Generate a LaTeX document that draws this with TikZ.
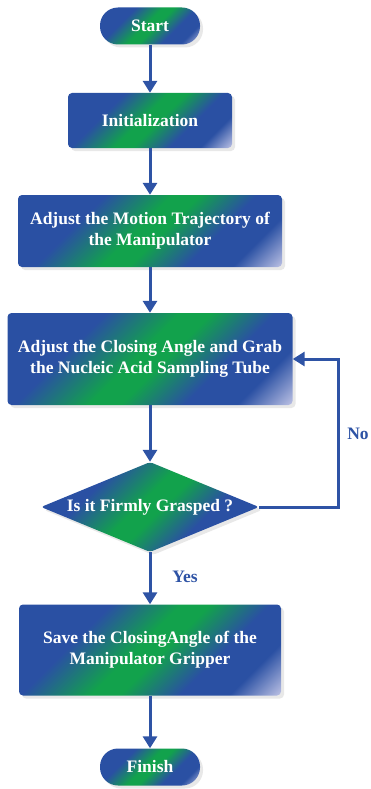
\documentclass[tikz,border=0pt]{standalone}
\usepackage{fontspec}
\setmainfont{Liberation Serif}
\usetikzlibrary{shapes.geometric, arrows.meta, shadows}

\definecolor{flowblue}{HTML}{2A50A3}
\definecolor{flowgreen}{HTML}{12A24C}
\definecolor{flowlight}{HTML}{D2D2EE}
\definecolor{linkblue}{HTML}{2E53A5}
\pgfdeclarehorizontalshading{flowfill}{100bp}{color(0bp)=(flowblue); color(33bp)=(flowblue); color(47bp)=(flowgreen); color(53bp)=(flowgreen); color(65bp)=(flowblue); color(75bp)=(flowblue); color(87bp)=(flowlight); color(100bp)=(flowlight)}

\begin{document}
\begin{tikzpicture}[
    x = 1pt, y = -1pt,
    every node/.style = {font = \fontsize{17.5}{20.7}\selectfont\bfseries},
    block/.style = {shading = flowfill, shading angle = -45, text = white,
        align = center, inner sep = 0pt, rounded corners = 4pt,
        drop shadow = {shadow xshift = 3pt, shadow yshift = -3pt, opacity = 0.18}},
    terminal/.style = {block, rounded corners = 18pt, minimum width = 100pt, minimum height = 37pt},
    decision/.style = {block, diamond, aspect = 2.4, rounded corners = 3pt,
        minimum width = 218pt, minimum height = 90pt},
    flow/.style = {draw = linkblue, line width = 3pt, -{Triangle[length = 12pt, width = 14pt]}},
    answer/.style = {text = linkblue}]

\useasboundingbox (0,0) rectangle (370,789);

\path (150,26) node[terminal] (start) {Start}
      (150,120.5) node[block, minimum width = 164pt, minimum height = 55pt] (init) {Initialization}
      (150,231) node[block, minimum width = 264pt, minimum height = 72pt] (traj) {Adjust the Motion Trajectory of\\the Manipulator}
      (150,359) node[block, minimum width = 285pt, minimum height = 92pt] (grab) {Adjust the Closing Angle and Grab\\the Nucleic Acid Sampling Tube}
      (150,507) node[decision] (check) {Is it Firmly Grasped ?}
      (150,650) node[block, minimum width = 262pt, minimum height = 91pt] (save) {Save the ClosingAngle of the\\Manipulator Gripper}
      (150,767) node[terminal] (finish) {Finish}
      (185,577) node[answer] (yes) {Yes}
      (358,434) node[answer] (no) {No};

\coordinate (noturn) at (338,507);

\draw[flow] (start) -- (init);
\draw[flow] (init) -- (traj);
\draw[flow] (traj) -- (grab);
\draw[flow] (grab) -- (check);
\draw[flow] (check) -- (save);
\draw[flow] (save) -- (finish);
\draw[flow] (check.east) -- (noturn) |- (grab.east);
\end{tikzpicture}
\end{document}
